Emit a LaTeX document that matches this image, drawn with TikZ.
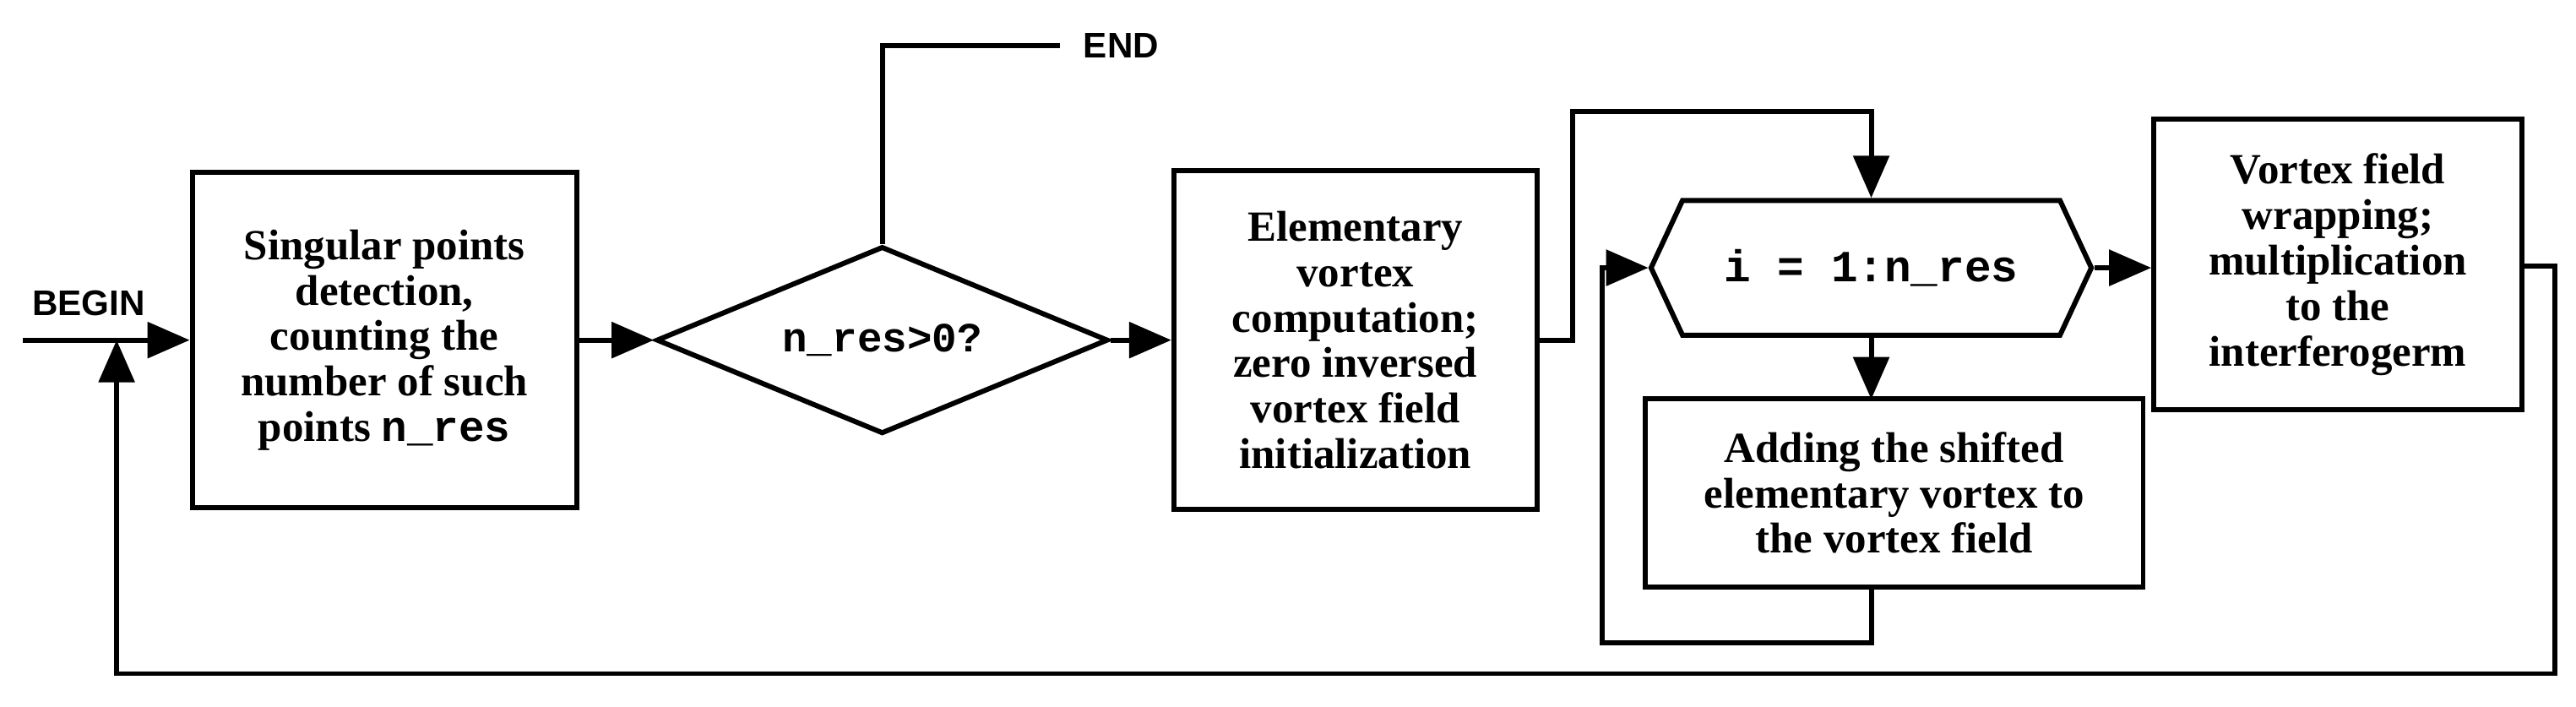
\documentclass[tikz,border=0pt]{standalone}
\usepackage{fontspec}
\setmainfont{Liberation Serif}
\newfontfamily\sansf{Liberation Sans}
\setmonofont{Liberation Mono}
\usetikzlibrary{arrows.meta,shapes.geometric,shapes.symbols}
\begin{document}
\begin{tikzpicture}[x=0.01945cm,y=-0.01945cm,
  line width=1.7pt,
  arr/.style={-{Triangle[length=0.5cm,width=0.42cm]}},
  box/.style={draw,line width=1.7pt,align=center,inner sep=0pt,font=\fontsize{14.5}{15.3}\selectfont\bfseries},
  lbl/.style={font=\sansf\bfseries\fontsize{12}{14}\selectfont}]
\useasboundingbox (0,0) rectangle (1568,430);
\node[box,minimum width=234*0.01945cm,minimum height=204*0.01945cm] (b1) at (234,207)
  {Singular points\\detection,\\counting the\\number of such\\points \texttt{n\_res}};
\node[lbl,anchor=south west] (begin) at (12,200) {BEGIN};
\coordinate (bs) at (14,207);
\draw[arr] (bs) -- (b1.west);
\node[draw,diamond,aspect=2.4,line width=1.7pt,minimum width=275*0.01945cm,minimum height=114*0.01945cm,inner sep=0pt,font=\ttfamily\bfseries\fontsize{14}{15}\selectfont] (d) at (537,207) {n\_res>0?};
\draw[arr] (b1.east) -- (d.west);
\coordinate (e1) at (537,28);
\coordinate (e2) at (645,28);
\node[lbl,anchor=west] (end) at (652,28) {END};
\draw (d.north) -- (e1) -- (e2);
\node[box,minimum width=221*0.01945cm,minimum height=206*0.01945cm] (b2) at (825,207)
  {Elementary\\vortex\\computation;\\zero inversed\\vortex field\\initialization};
\draw[arr] (d.east) -- (b2.west);
\node[draw,signal,signal to=east and west,signal pointer angle=130,line width=1.7pt,minimum width=268*0.01945cm,minimum height=82*0.01945cm,inner sep=0pt,font=\ttfamily\bfseries\fontsize{15}{16}\selectfont] (h) at (1139,163) {i = 1:n\_res};
\coordinate (c1) at (957,207);
\coordinate (c2) at (957,68);
\coordinate (c3) at (1139,68);
\draw[arr] (b2.east) -- (c1) -- (c2) -- (c3) -- (h.north);
\node[box,minimum width=303*0.01945cm,minimum height=115*0.01945cm] (b3) at (1153,300)
  {Adding the shifted\\elementary vortex to\\the vortex field};
\draw[arr] (h.south) -- (1139,243);
\coordinate (l1) at (1139,391);
\coordinate (l2) at (975,391);
\coordinate (l3) at (975,163);
\draw[arr] (1139,358) -- (l1) -- (l2) -- (l3) -- (h.west);
\node[box,minimum width=224*0.01945cm,minimum height=177*0.01945cm] (b4) at (1423,161)
  {Vortex field\\wrapping;\\multiplication\\to the\\interferogerm};
\draw[arr] (h.east) -- (b4.west |- h.east);
\coordinate (r1) at (1555,162);
\coordinate (r2) at (1555,410);
\coordinate (r3) at (71,410);
\coordinate (r4) at (71,207);
\draw[arr] (1535,162) -- (r1) -- (r2) -- (r3) -- (r4);
\end{tikzpicture}
\end{document}
